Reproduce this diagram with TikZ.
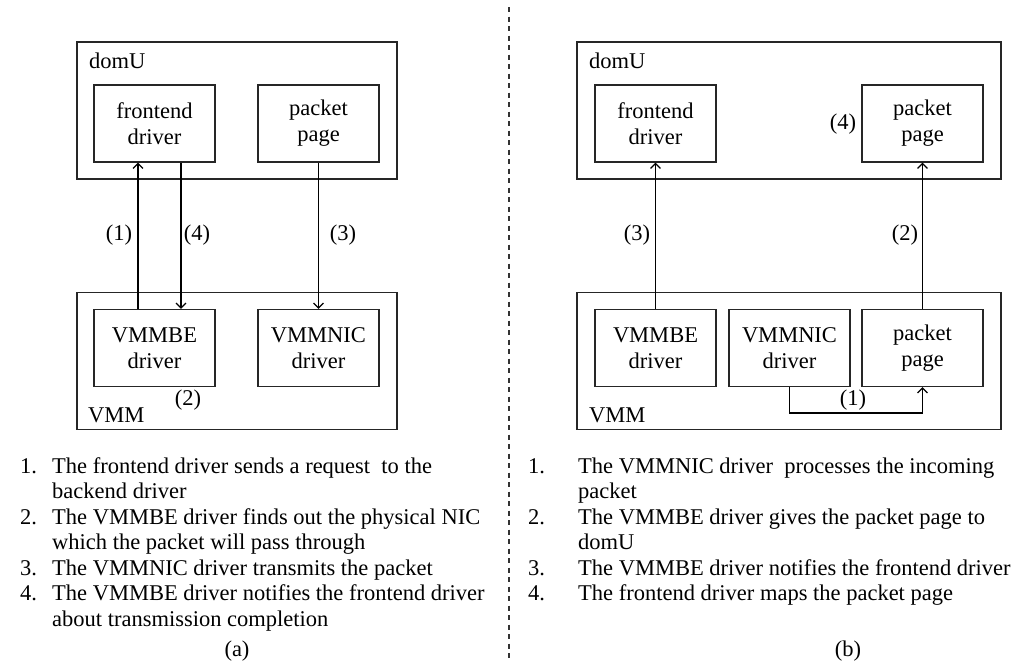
\documentclass[tikz,border=0pt]{standalone}
\usepackage{fontspec}
\setmainfont{Liberation Serif}
\usetikzlibrary{arrows.meta}

\begin{document}
\begin{tikzpicture}[x=1pt,y=-1pt,
  txt/.style={font=\fontsize{22.5}{26}\selectfont},
  outer/.style={draw=black!85, line width=1.4pt, minimum width=#1, minimum height=137pt, inner sep=0pt},
  inbox/.style={draw=black!85, line width=1.2pt, minimum width=121pt, minimum height=77pt, inner sep=0pt, align=center, txt},
  arr/.style={line width=1.25pt, -{Straight Barb[length=5pt,width=10pt,line width=1.2pt]}},
  lbl/.style={txt, inner sep=0pt},
  item/.style={txt, anchor=base west, inner sep=0pt},
  sep/.style={line width=1.3pt, black!80, dash pattern=on 5pt off 4.5pt}
]
\useasboundingbox (0,0) rectangle (1020,662);

% ---------- (a) transmit path ----------
\node[outer=320pt] (domUa) at (237,110.5) {};
\node[lbl, anchor=base west] (domUatxt) at (89,68) {domU};
\node[inbox] (fea) at (154.5,123.5) {frontend\\driver};
\node[inbox] (ppa) at (318.5,123.5) {packet\\page};

\node[outer=320pt] (vmma) at (237,361) {};
\node[lbl, anchor=base west] (vmmatxt) at (88,422) {VMM};
\node[inbox] (bea) at (154.5,348) {VMMBE\\driver};
\node[inbox] (nica) at (318.5,348) {VMMNIC\\driver};

\draw[arr] ([xshift=-16.5pt]bea.north) -- ([xshift=-16.5pt]fea.south);
\draw[arr] ([xshift=26.5pt]fea.south) -- ([xshift=26.5pt]bea.north);
\draw[arr] (ppa.south) -- (nica.north);

\node[lbl] (a1) at (119,235) {(1)};
\node[lbl] (a4) at (197,235) {(4)};
\node[lbl] (a3) at (343,235) {(3)};
\node[lbl] (a2) at (188,400) {(2)};

% ---------- (b) receive path ----------
\node[outer=424pt] (domUb) at (789,110.5) {};
\node[lbl, anchor=base west] (domUbtxt) at (589,68) {domU};
\node[inbox] (feb) at (655.5,123.5) {frontend\\driver};
\node[inbox] (ppb) at (922.5,123.5) {packet\\page};

\node[outer=424pt] (vmmb) at (789,361) {};
\node[lbl, anchor=base west] (vmmbtxt) at (589,422) {VMM};
\node[inbox] (beb) at (655.5,348) {VMMBE\\driver};
\node[inbox] (nicb) at (789.5,348) {VMMNIC\\driver};
\node[inbox] (ppvb) at (922.5,348) {packet\\page};

\draw[arr] (beb.north) -- (feb.south);
\draw[arr] (ppvb.north) -- (ppb.south);
\draw[arr] (nicb.south) -- ++(0,26) -| (ppvb.south);

\node[lbl] (b3) at (637,235) {(3)};
\node[lbl] (b2) at (905,235) {(2)};
\node[lbl] (b4) at (843,124) {(4)};
\node[lbl] (b1) at (853,400) {(1)};

% ---------- separator ----------
\coordinate (septop) at (509,7);
\coordinate (sepbot) at (509,662);
\draw[sep] (septop) -- (sepbot);

% ---------- step lists (one node per printed line) ----------
\node[item] (an1)  at (20,473)   {1.};
\node[item] (at1a) at (52,473)   {The frontend driver sends a request\ \ to the};
\node[item] (at1b) at (52,498.5) {backend driver};
\node[item] (an2)  at (20,524)   {2.};
\node[item] (at2a) at (52,524)   {The VMMBE driver finds out the physical NIC};
\node[item] (at2b) at (52,549.5) {which the packet will pass through};
\node[item] (an3)  at (20,575)   {3.};
\node[item] (at3)  at (52,575)   {The VMMNIC driver transmits the packet};
\node[item] (an4)  at (20,600.5) {4.};
\node[item] (at4a) at (52,600.5) {The VMMBE driver notifies the frontend driver};
\node[item] (at4b) at (52,626)   {about transmission completion};
\node[lbl, anchor=base] (capa) at (237,656) {(a)};

\node[item] (bn1)  at (528,473)   {1.};
\node[item] (bt1a) at (578,473)   {The VMMNIC driver\ \ processes the incoming};
\node[item] (bt1b) at (578,498.5) {packet};
\node[item] (bn2)  at (528,524)   {2.};
\node[item] (bt2a) at (578,524)   {The VMMBE driver gives the packet page to};
\node[item] (bt2b) at (578,549.5) {domU};
\node[item] (bn3)  at (528,575)   {3.};
\node[item] (bt3)  at (578,575)   {The VMMBE driver notifies the frontend driver};
\node[item] (bn4)  at (528,600.5) {4.};
\node[item] (bt4)  at (578,600.5) {The frontend driver maps the packet page};
\node[lbl, anchor=base] (capb) at (848,656) {(b)};
\end{tikzpicture}
\end{document}
